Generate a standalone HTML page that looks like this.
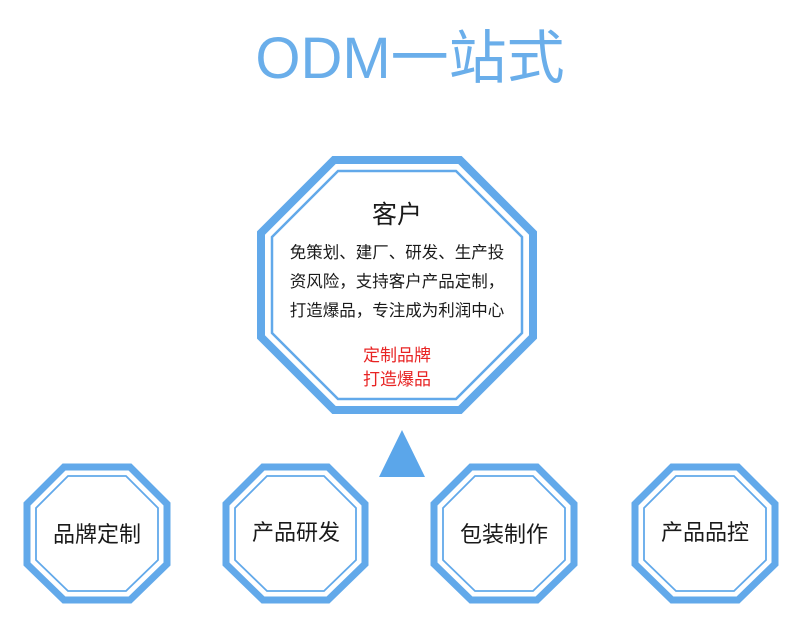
<!DOCTYPE html>
<html><head><meta charset="utf-8"><style>
body{margin:0;width:800px;height:621px;background:#fff;overflow:hidden}
text{font-family:"Liberation Sans","Noto Sans CJK SC",sans-serif}
</style></head><body>
<svg width="800" height="621" viewBox="0 0 800 621">
<text x="410" y="78" font-size="58" fill="#6aaeea" text-anchor="middle">ODM一站式</text>
<g fill="none" stroke="#62a9ea">
<polygon points="334,160 460,160 533,233 533,337 460,410 334,410 261,337 261,233" stroke-width="8"/>
<polygon points="338,171 456,171 522,237 522,333 456,399 338,399 272,333 272,237" stroke-width="2.5"/>
<g stroke-width="7">
<polygon points="64,467 130,467 167,504 167,564 130,600 64,600 27,564 27,504"/>
<polygon points="263,467 328,467 365,504 365,564 328,600 263,600 226,564 226,504"/>
<polygon points="471,467 537,467 574,504 574,564 537,600 471,600 434,564 434,504"/>
<polygon points="672,467 738,467 775,504 775,564 738,600 672,600 635,564 635,504"/>
</g>
<g stroke-width="1.8">
<polygon points="68,476 126,476 158,508 158,560 126,591 68,591 36,560 36,508"/>
<polygon points="267,476 324,476 356,508 356,560 324,591 267,591 235,560 235,508"/>
<polygon points="475,476 533,476 565,508 565,560 533,591 475,591 443,560 443,508"/>
<polygon points="676,476 734,476 766,508 766,560 734,591 676,591 644,560 644,508"/>
</g>
</g>
<polygon points="402,430 425,477 379,477" fill="#5ba6ea"/>
<g text-anchor="middle" fill="#1a1a1a">
<text x="397" y="223" font-size="25">客户</text>
<text x="397" y="258" font-size="16.5">免策划、建厂、研发、生产投</text>
<text x="397" y="287" font-size="16.5">资风险，支持客户产品定制，</text>
<text x="397" y="316" font-size="16.5">打造爆品，专注成为利润中心</text>
<text x="397" y="361" font-size="17" fill="#e82424">定制品牌</text>
<text x="397" y="385" font-size="17" fill="#e82424">打造爆品</text>
<text x="97" y="542" font-size="22">品牌定制</text>
<text x="296" y="540" font-size="22">产品研发</text>
<text x="504" y="542" font-size="22">包装制作</text>
<text x="705" y="540" font-size="22">产品品控</text>
</g>
</svg>
</body></html>
